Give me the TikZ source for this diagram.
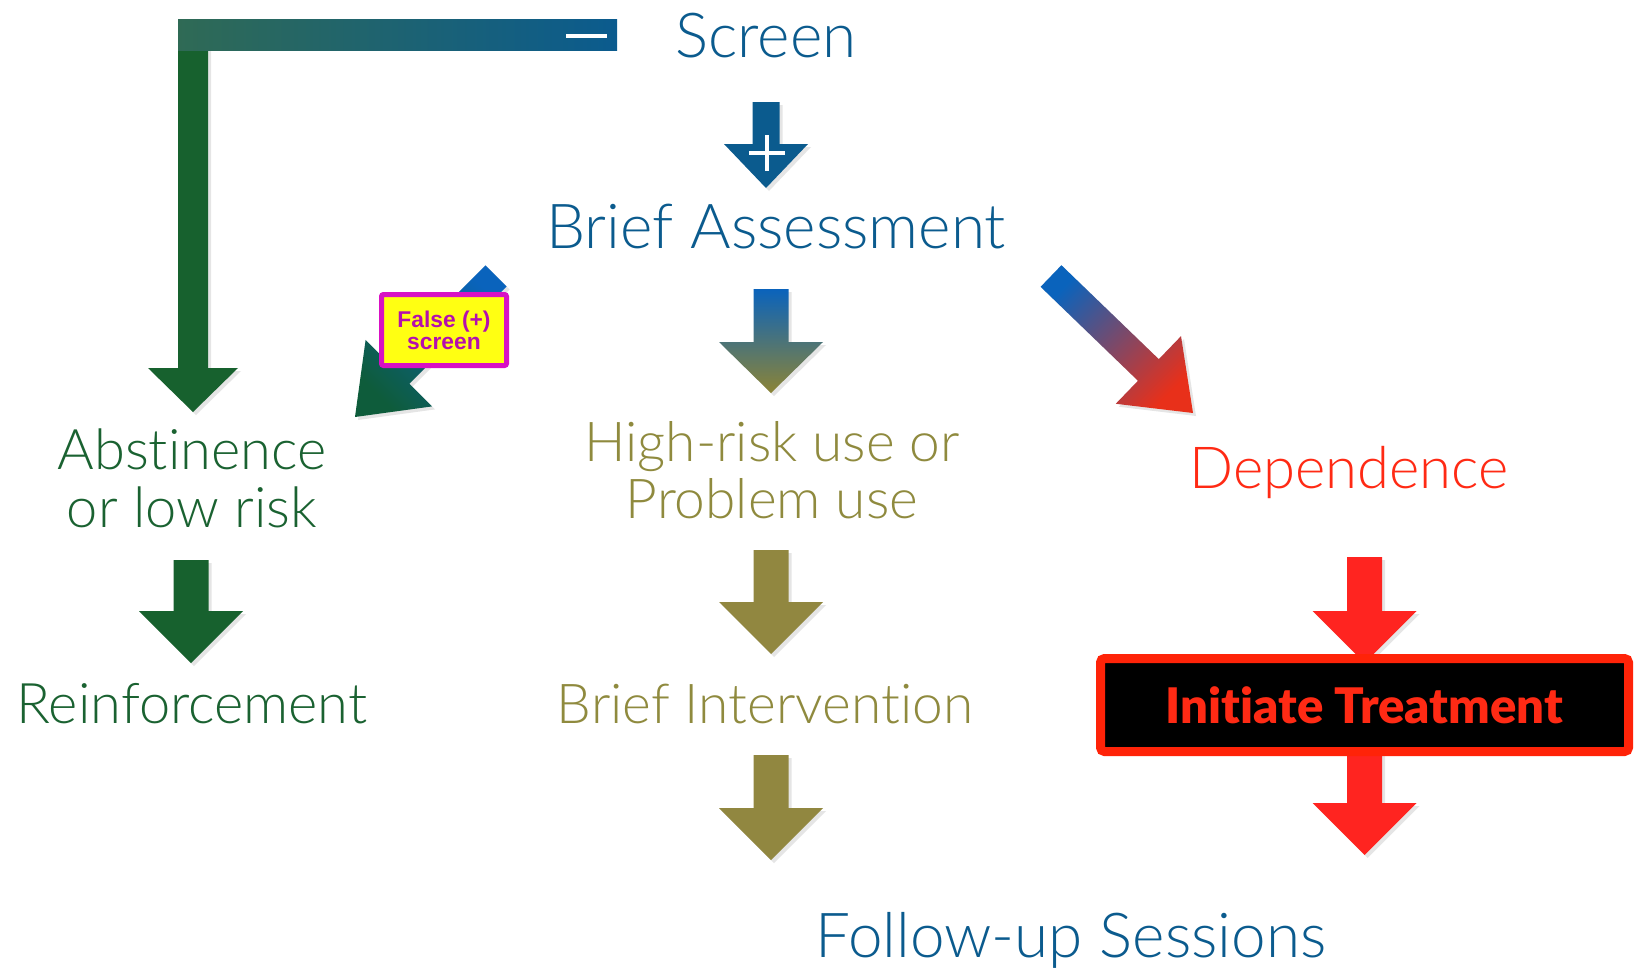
\documentclass[tikz,border=0pt]{standalone}
\usepackage{fontspec}
\setmainfont{Lato Light}[BoldFont={Lato Black}, Ligatures=CommonOff]
\newfontfamily\boxfont{Liberation Sans}
\usepackage{tikz}
\usetikzlibrary{calc,shadows}

\definecolor{scrblue}{HTML}{0B5B8E}
\definecolor{gradblue}{HTML}{0A63BC}
\definecolor{barleft}{HTML}{2F6A55}
\definecolor{absgreen}{HTML}{1A6231}
\definecolor{arrgreencol}{HTML}{17612E}
\definecolor{diaggreen}{HTML}{0E5C3B}
\definecolor{riskolive}{HTML}{8F8A3E}
\definecolor{arrolivecol}{HTML}{918740}
\definecolor{midolive}{HTML}{8C8436}
\definecolor{depred}{HTML}{FF2A14}
\definecolor{arrredcol}{HTML}{FF2420}
\definecolor{diagred}{HTML}{E8301A}
\definecolor{treatred}{HTML}{FF2308}
\definecolor{falsemag}{HTML}{D811C4}
\definecolor{falsetxt}{HTML}{B40FAE}
\definecolor{falseyel}{HTML}{FFFF12}

% block arrow: style, start, tip, half shaft, half head, head length
\newcommand{\blockarrow}[6]{%
  \coordinate (ba-h) at ($(#3)!#6pt!(#2)$);
  \path[#1] ($(#2)!#4pt!90:(#3)$) -- ($(ba-h)!#4pt!90:(#3)$)
    -- ($(ba-h)!#5pt!90:(#3)$) -- (#3)
    -- ($(ba-h)!#5pt!-90:(#3)$) -- ($(ba-h)!#4pt!-90:(#3)$)
    -- ($(#2)!#4pt!-90:(#3)$) -- cycle;
}

\begin{document}
\begin{tikzpicture}[x=1pt, y=-1pt, line join=miter]
  % ---- Styles ----
  \tikzset{
    scrtext/.style={font=\fontsize{62}{58}\selectfont, inner sep=0pt, text=scrblue},
    abstext/.style={font=\fontsize{56}{58}\selectfont, inner sep=0pt, text=absgreen},
    risktext/.style={font=\fontsize{55}{57}\selectfont, inner sep=0pt, text=riskolive},
    deptext/.style={font=\fontsize{58}{58}\selectfont, inner sep=0pt, text=depred},
    arrbase/.style={drop shadow={opacity=0.2, shadow xshift=3pt, shadow yshift=-3pt}},
    arrblue/.style={arrbase, fill=scrblue},
    arrgreen/.style={arrbase, fill=arrgreencol},
    arrolive/.style={arrbase, fill=arrolivecol},
    arrred/.style={arrbase, fill=arrredcol},
    arrmid/.style={arrbase, top color=gradblue, bottom color=midolive},
    arrleft/.style={arrbase, top color=gradblue, bottom color=diaggreen, shading angle=-45},
    arrright/.style={arrbase, top color=gradblue, bottom color=diagred, shading angle=45},
    sign/.style={white, line width=4.5pt},
    falsebox/.style={draw=falsemag, line width=5pt, fill=falseyel, rounded corners=2pt,
      minimum width=125pt, minimum height=71pt, inner sep=0pt, align=center,
      font=\boxfont\bfseries\fontsize{22.8}{22}\selectfont, text=falsetxt},
    treatbox/.style={draw=treatred, line width=9pt, fill=black, rounded corners=4pt,
      minimum width=528pt, minimum height=93pt, inner sep=0pt,
      font=\bfseries\fontsize{49}{50}\selectfont, text=depred},
  }

  \path[use as bounding box, fill=white] (0,0) rectangle (1634,969);

  % ---- Labels ----
  \node[scrtext, anchor=base] (screen) at (766,57) {Screen};
  \node[scrtext, anchor=base] (assess) at (776,248) {Brief Assessment};
  \node[abstext, align=center] (abst) at (192,478) {Abstinence\\or low risk};
  \node[abstext, anchor=base] (reinf) at (192,723) {Reinforcement};
  \node[risktext, align=center] (risk) at (772,470) {High-risk use or\\Problem use};
  \node[risktext, anchor=base] (brief) at (765,723) {Brief Intervention};
  \node[deptext, anchor=base] (dep) at (1349,488) {Dependence};
  \node[scrtext, anchor=base] (follow) at (1071,957) {Follow-up Sessions};

  % ---- Arrow ends ----
  \coordinate (pos-s) at (766,102);  \coordinate (pos-t) at (766,188);
  \coordinate (neg-s) at (193,45);   \coordinate (neg-t) at (193,412);
  \coordinate (mid-s) at (771,289);  \coordinate (mid-t) at (771,393);
  \coordinate (lft-s) at (496,276);  \coordinate (lft-t) at (355,417);
  \coordinate (rgt-s) at (1051,276); \coordinate (rgt-t) at (1193,413);

  % Screen positive / negative
  \blockarrow{arrblue}{pos-s}{pos-t}{13.5}{42}{44}
  \draw[sign] (749,153) -- (785,153) (767,135) -- (767,171);
  \blockarrow{arrgreen}{neg-s}{neg-t}{15}{45}{44}
  \shade[left color=barleft, right color=scrblue] (178,19) rectangle (617,50);
  \draw[sign] (566,36) -- (607,36);

  % Brief Assessment outcomes
  \blockarrow{arrmid}{mid-s}{mid-t}{17.5}{52}{51}
  \blockarrow{arrleft}{lft-s}{lft-t}{15}{47}{62}
  \blockarrow{arrright}{rgt-s}{rgt-t}{15}{47}{62}
  \node[falsebox] (false) at (444,330) {False (+)\\screen};

  % Lower columns
  \foreach \sty/\x/\ya/\yb in {arrgreen/191/560/663, arrolive/771/550/654,
      arrolive/771/755/860, arrred/1364.5/557/663, arrred/1364.5/740/855} {
    \coordinate (col-s) at (\x,\ya);
    \coordinate (col-t) at (\x,\yb);
    \blockarrow{\sty}{col-s}{col-t}{17.5}{52}{52}
  }

  \node[treatbox] (treat) at (1364.5,705) {Initiate Treatment};

\end{tikzpicture}
\end{document}
